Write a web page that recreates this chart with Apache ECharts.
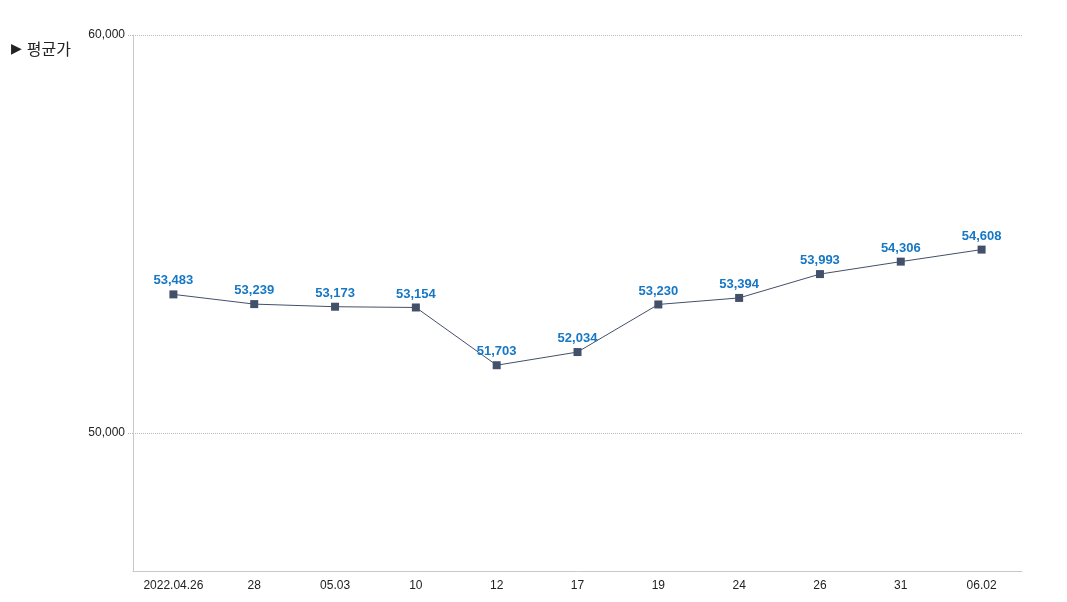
<!DOCTYPE html>
<html><head><meta charset="utf-8">
<script src="https://cdn.jsdelivr.net/npm/echarts@6/dist/echarts.min.js"></script>
<style>html,body{margin:0;padding:0;background:#fff}#c{width:1067px;height:602px}</style>
</head><body><div id="c"></div>
<script>
const categories = ['2022.04.26','28','05.03','10','12','17','19','24','26','31','06.02'];
const avgPrice = [53483,53239,53173,53154,51703,52034,53230,53394,53993,54306,54608];
const yTicks = [50000,60000];
const seriesName = '평균가';

const chart = echarts.init(document.getElementById('c'));
chart.setOption({
  animation:false,
  textStyle:{fontFamily:'Arial, "Liberation Sans", "Noto Sans CJK KR", sans-serif'},
  title:{text:'{a|▶} {b|'+seriesName+'}',left:6,top:35,textStyle:{fontWeight:'normal',rich:{
    a:{fontSize:14,fontWeight:'normal',color:'#222',fontFamily:'"DejaVu Sans", sans-serif'},
    b:{fontSize:16,fontWeight:'normal',color:'#222',fontFamily:'"Noto Sans CJK KR", sans-serif'}}}},
  grid:{left:133,right:45,top:35,bottom:31,containLabel:false},
  xAxis:{type:'category',data:categories,boundaryGap:true,
    axisLine:{lineStyle:{color:'#c8c8c8'}},
    axisTick:{alignWithLabel:true,length:5,lineStyle:{color:'#c8c8c8',type:'dotted'}},
    axisLabel:{color:'#222',fontSize:12,margin:9}},
  yAxis:{type:'value',min:46533,max:60000,
    axisLine:{show:true,lineStyle:{color:'#c8c8c8'}},
    axisTick:{show:true,customValues:yTicks,length:6,lineStyle:{color:'#bbb',type:'dotted'}},
    axisLabel:{customValues:yTicks,color:'#222',fontSize:12,margin:8,formatter:v=>v.toLocaleString('en-US')},
    splitLine:{show:true,lineStyle:{color:'#bbb',type:'dotted'}}},
  series:[{name:seriesName,type:'line',data:avgPrice,symbol:'rect',symbolSize:8,
    itemStyle:{color:'#435069'},lineStyle:{color:'#435069',width:1},
    label:{show:true,position:'top',distance:3,color:'#1677c4',fontWeight:'bold',fontSize:13,
      formatter:p=>p.value.toLocaleString('en-US')}}]
});
</script></body></html>
